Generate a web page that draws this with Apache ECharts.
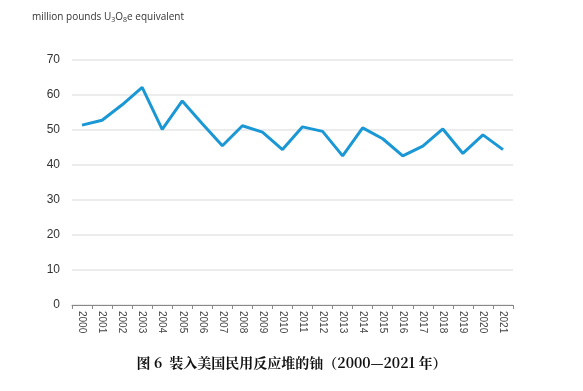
<!DOCTYPE html>
<html><head><meta charset="utf-8">
<script src="https://cdn.jsdelivr.net/npm/echarts@6/dist/echarts.min.js"></script>
<style>html,body{margin:0;padding:0;background:#fff}#c{width:583px;height:391px}</style>
</head><body><div id="c"></div>
<script>
const years = ['2000','2001','2002','2003','2004','2005','2006','2007','2008','2009','2010','2011','2012','2013','2014','2015','2016','2017','2018','2019','2020','2021'];
const uranium = [51.4,52.8,57.2,62.2,50.2,58.3,51.8,45.5,51.2,49.4,44.4,50.9,49.6,42.6,50.6,47.5,42.6,45.4,50.3,43.3,48.6,44.4];
const yTicks = [0,10,20,30,40,50,60,70];
const unitLabel = 'million pounds ';
const titleText = '图 6  装入美国民用反应堆的铀（2000—2021 年）';

const chart = echarts.init(document.getElementById('c'), null, {renderer:'canvas'});
chart.setOption({
  animation:false,
  backgroundColor:'#fff',
  grid:{left:72,right:70,top:60,bottom:86},
  graphic:[
    {type:'text',left:32,top:12,style:{
      rich:{n:{fontSize:10,fill:'#333',fontFamily:'"Open Sans",Arial,sans-serif'},
            s:{fontSize:7,fill:'#333',fontFamily:'"Open Sans",Arial,sans-serif',padding:[6,0,0,0]}},
      text:'{n|'+unitLabel+'U}{s|3}{n|O}{s|8}{n|e equivalent}'}},
    {type:'text',left:'center',top:356,style:{text:titleText,fontSize:14,fontWeight:'bold',fill:'#111',fontFamily:'"Noto Serif CJK SC","Noto Sans CJK SC",serif'}}
  ],
  xAxis:{type:'category',data:years,boundaryGap:true,
    axisLine:{lineStyle:{color:'#888',width:1}},
    axisTick:{show:true,alignWithLabel:false,length:4,lineStyle:{color:'#888'}},
    axisLabel:{rotate:-90,fontSize:10,color:'#444',margin:6,interval:0,fontFamily:'Arial, "Liberation Sans", sans-serif'}},
  yAxis:{type:'value',min:0,max:70,interval:10,
    axisLine:{show:false},axisTick:{show:false},
    axisLabel:{fontSize:12,color:'#333',margin:12,fontFamily:'Arial, "Liberation Sans", sans-serif',
      formatter:v=>yTicks.includes(v)?String(v):''},
    splitLine:{lineStyle:{color:'#e6e6e6',width:1.5}}},
  series:[{type:'line',data:uranium,symbol:'none',lineStyle:{color:'#1a97d5',width:3},itemStyle:{color:'#1a97d5'}}]
});
</script></body></html>
